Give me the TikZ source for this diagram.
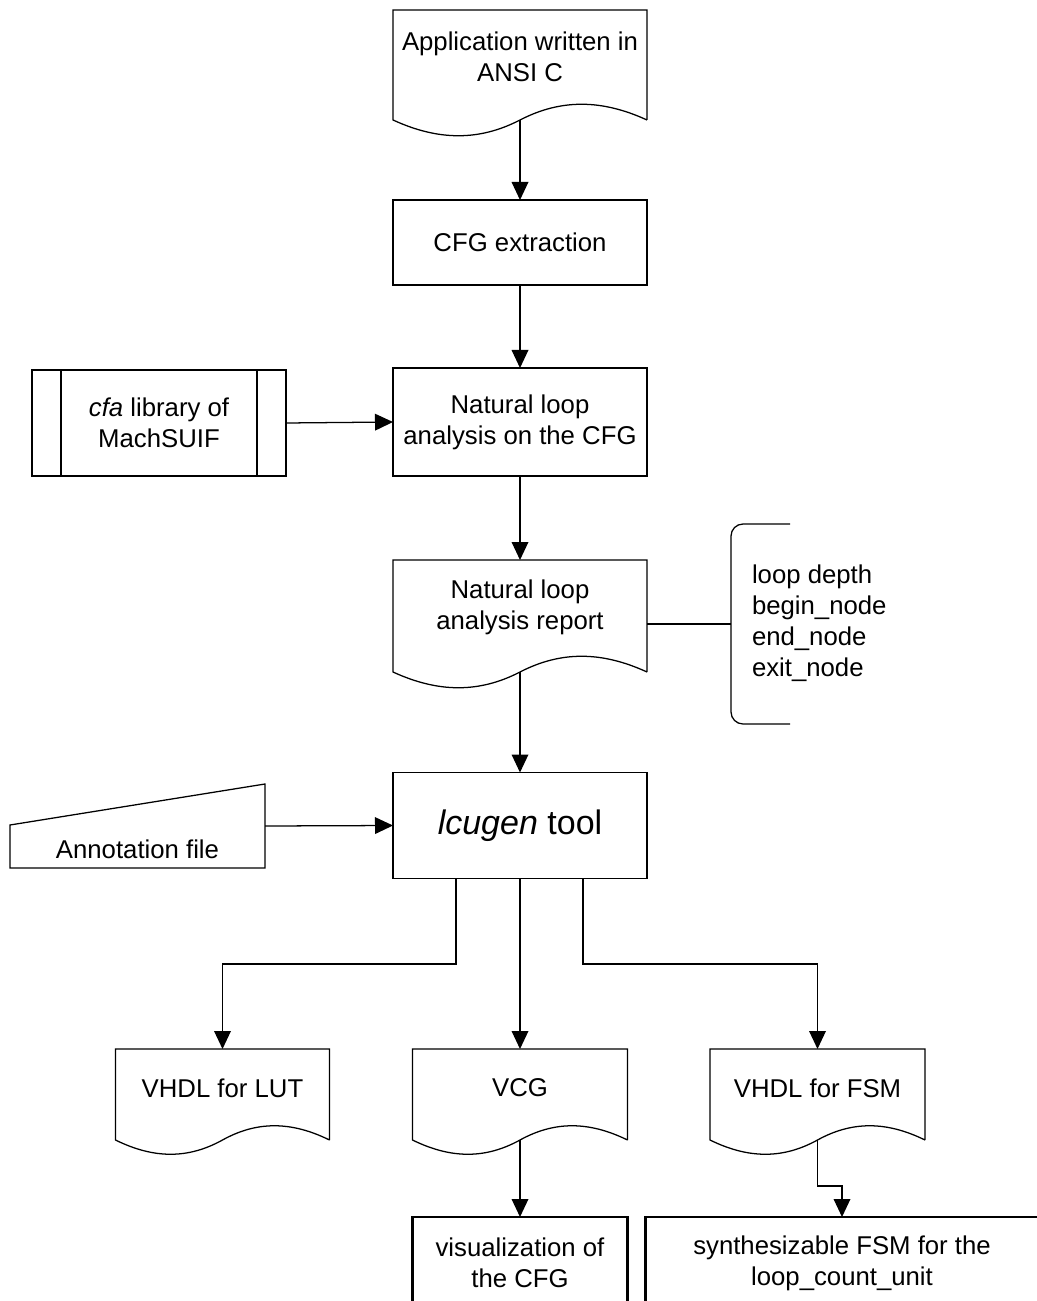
\documentclass[tikz,border=0pt]{standalone}
\usepackage{fontspec}
\setmainfont{Liberation Sans}
\usetikzlibrary{arrows.meta,calc}

% outline of a flowchart "document" shape around node #1, wave depth #2 (px)
\newcommand\docoutline[2]{%
  \draw[shapeline] (#1.south east) -- (#1.north east) -- (#1.north west) -- (#1.south west)
    .. controls ($(#1.south west)!0.18!(#1.south east)+(0,#2)$)
           and ($(#1.south west)!0.34!(#1.south east)+(0,#2)$) .. (#1.south)
    .. controls ($(#1.south west)!0.66!(#1.south east)+(0,-#2)$)
           and ($(#1.south west)!0.82!(#1.south east)+(0,-#2)$) .. (#1.south east);}

\begin{document}
\begin{tikzpicture}[x=0.75pt,y=-0.75pt,
  every node/.style={inner sep=0pt,outer sep=0pt},
  shapeline/.style={line width=0.95pt,line join=miter},
  sized/.style 2 args={minimum width=#1*0.75pt,minimum height=#2*0.75pt},
  txt/.style={font=\fontsize{19.3}{23.3}\selectfont,align=center},
  bigtxt/.style={font=\fontsize{25.5}{30}\selectfont,align=center},
  procbox/.style={draw,shapeline},
  resbox/.style={draw,line width=2.2pt},
  flow/.style={line width=0.95pt,-{Triangle[length=13.5pt,width=12.5pt]}},
  plain/.style={line width=0.95pt}]

\useasboundingbox (0,0) rectangle (1036,1301);
\fill[white] (0,0) rectangle (1036,1301);

% ---- main column ----
\node[sized={254}{110}] (app) at (520,65) {};
\docoutline{app}{21}
\node[txt] (apptext) at (520,57) {Application written in\\ANSI C};

\node[procbox,sized={254}{85},txt] (cfg) at (520,242.5) {CFG extraction};

\node[procbox,sized={254}{108},txt] (nla) at (520,422) {Natural loop\\analysis on the CFG};

\node[procbox,sized={254}{106},txt] (cfa) at (159,423) {\textit{cfa} library of\\MachSUIF};
\draw[shapeline] ($(cfa.north west)+(29,0)$) -- ($(cfa.south west)+(29,0)$)
                 ($(cfa.north east)+(-29,0)$) -- ($(cfa.south east)+(-29,0)$);

\node[sized={254}{112}] (rep) at (520,616) {};
\docoutline{rep}{21}
\node[txt] (reptext) at (520,607.5) {Natural loop\\analysis report};

% annotation bracket with the report fields
\coordinate (bracemid) at (731,624);
\draw[shapeline,rounded corners=9pt] (790,524) -| (731,724) -- (790,724);
\node[txt,align=left,anchor=west] (fields) at (752,623.5)
  {loop depth\\begin\_node\\end\_node\\exit\_node};

\node[procbox,sized={254}{106},bigtxt] (lcu) at (520,825.5) {\textit{lcugen} tool};

% manual input shape
\node[sized={255}{84}] (ann) at (137.5,826) {};
\draw[shapeline] (ann.south west) -- ($(ann.north west)+(0,41)$) -- (ann.north east)
  -- (ann.south east) -- cycle;
\node[txt] (anntext) at (137.5,849) {Annotation file};

% ---- outputs ----
\node[sized={214}{91}] (lut) at (222.5,1094.5) {};
\docoutline{lut}{19}
\node[txt] (luttext) at (222.5,1088) {VHDL for LUT};

\node[sized={215}{91}] (vcg) at (520,1094.5) {};
\docoutline{vcg}{19}
\node[txt] (vcgtext) at (520,1088) {VCG};

\node[sized={215}{91}] (fsm) at (817.5,1094.5) {};
\docoutline{fsm}{19}
\node[txt] (fsmtext) at (817.5,1088) {VHDL for FSM};

\node[resbox,sized={215}{92},txt] (vis) at (520,1263) {visualization of\\the CFG};
\node[resbox,sized={393}{92},txt] (syn) at (842,1263) {synthesizable FSM for the\\loop\_count\_unit};

% ---- connectors ----
\draw[flow] (app.south) -- (cfg.north);
\draw[flow] (cfg.south) -- (nla.north);
\draw[flow] (cfa.east) -- (nla.west);
\draw[flow] (nla.south) -- (rep.north);
\draw[plain] (bracemid -| rep.east) -- (bracemid);
\draw[flow] (rep.south) -- (lcu.north);
\draw[flow] (ann.east) -- (lcu.west);

\coordinate (bl) at (456,964);
\coordinate (br) at (583,964);
\draw[flow] (bl |- lcu.south) -- (bl) -| (lut.north);
\draw[flow] (lcu.south) -- (vcg.north);
\draw[flow] (br |- lcu.south) -- (br) -| (fsm.north);

\draw[flow] (vcg.south) -- (vis.north);
\coordinate (felbow) at (830,1186);
\draw[flow] (fsm.south) |- (felbow) -| (syn.north);

\end{tikzpicture}
\end{document}
